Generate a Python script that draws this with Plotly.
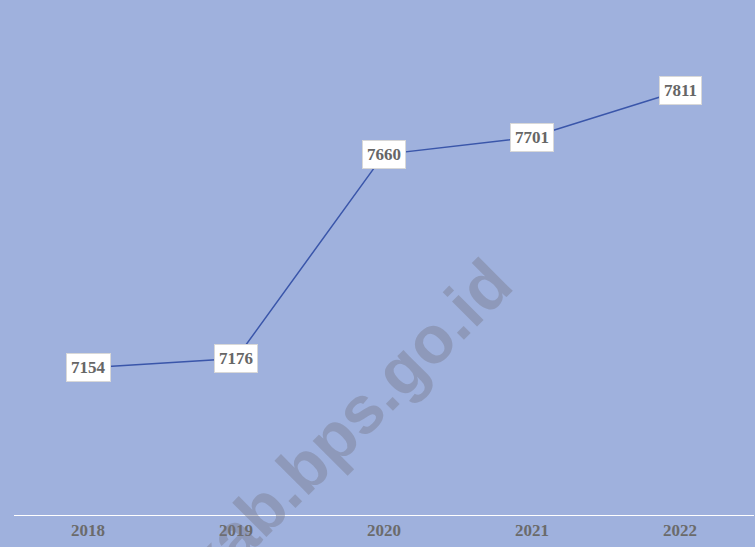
import plotly.graph_objects as go

years = ["2018", "2019", "2020", "2021", "2022"]
values = [7154, 7176, 7660, 7701, 7811]

fig = go.Figure()
fig.add_trace(go.Scatter(
    x=list(range(len(years))), y=values, mode="lines",
    line=dict(color="#3a56aa", width=1.5),
    hoverinfo="skip", showlegend=False,
))

fig.add_annotation(
    xref="paper", yref="paper", x=0.45, y=0.177,
    xanchor="center", yanchor="middle",
    text="<b>kab.bps.go.id</b>", showarrow=False, textangle=-45,
    font=dict(family="Liberation Sans", size=67, color="rgba(115,115,130,0.38)"),
)

for i, v in enumerate(values):
    fig.add_annotation(
        x=i, y=v, text=f"<b>{v}</b>", showarrow=False,
        font=dict(family="Liberation Serif", size=17, color="#666666"),
        bgcolor="white", bordercolor="#d8d8d8", borderwidth=1, borderpad=4,
        xanchor="center", yanchor="middle",
    )

fig.update_layout(
    width=755, height=547,
    margin=dict(l=14, r=1, t=0, b=32),
    paper_bgcolor="#9fb1dd", plot_bgcolor="#9fb1dd",
    xaxis=dict(
        range=[-0.5, 4.5], showgrid=False, zeroline=False,
        showline=True, linecolor="white", linewidth=1,
        tickmode="array", tickvals=list(range(len(years))),
        ticktext=[f"<b>{y}</b>" for y in years],
        tickfont=dict(family="Liberation Serif", size=17, color="#6b6b6b"),
        ticks="",
    ),
    yaxis=dict(
        range=[6805, 8026], showgrid=False, zeroline=False,
        showticklabels=False, showline=False,
    ),
)

fig.write_html(
    "out.html",
    config={"displayModeBar": False},
    post_script="document.body.style.margin='0';document.body.style.overflow='hidden';",
)
